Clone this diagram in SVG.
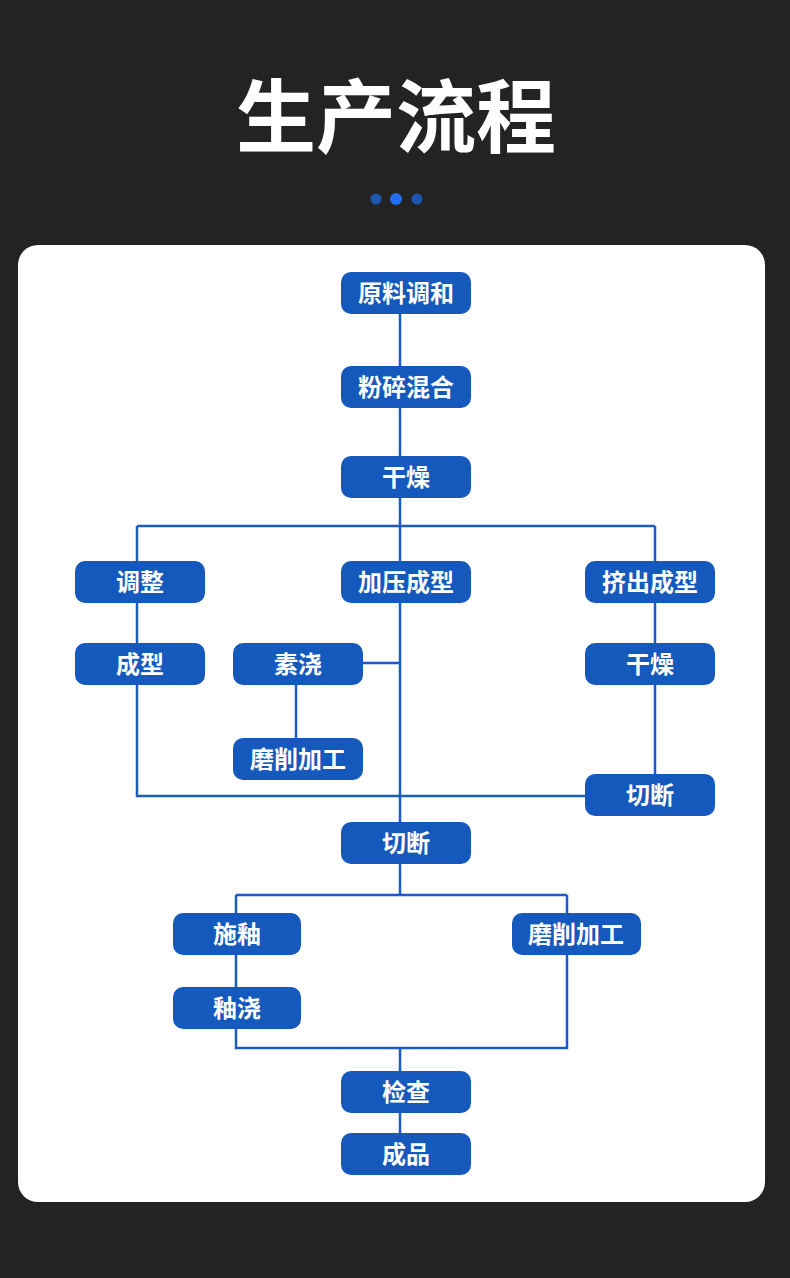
<svg xmlns="http://www.w3.org/2000/svg" width="790" height="1278" viewBox="0 0 790 1278">
<style>
.n rect{fill:#1559bd}
.n text{fill:#fff;font-family:"Noto Sans CJK SC",sans-serif;font-weight:bold;font-size:24px;text-anchor:middle;dominant-baseline:central}
#conn path{fill:none;stroke:#1a5cc0;stroke-width:2.5}
</style>
<rect width="790" height="1278" fill="#232323"/>
<text x="396" y="146" fill="#fff" font-family="Noto Sans CJK SC,sans-serif" font-weight="bold" font-size="80" text-anchor="middle">生产流程</text>
<circle cx="376" cy="199" r="5.5" fill="#1d56b0"/><circle cx="396" cy="199" r="6" fill="#1f6ff0"/><circle cx="417" cy="199" r="5.5" fill="#1d56b0"/>
<rect x="18" y="245" width="747" height="957" rx="20" fill="#fff"/>
<g id="conn">
<path d="M400 314V895M400 1048V1133M137 526H655M137 526V796H585M655 526V774M363 663H400M296 685V738M236 895H567M236 895V1048H567V895"/>
</g>
<g class="n" id="n1"><rect x="341" y="272" width="130" height="42" rx="10"/><text x="406" y="291">原料调和</text></g>
<g class="n" id="n2"><rect x="341" y="366" width="130" height="42" rx="10"/><text x="406" y="385">粉碎混合</text></g>
<g class="n" id="n3"><rect x="341" y="456" width="130" height="42" rx="10"/><text x="406" y="475">干燥</text></g>
<g class="n" id="n4"><rect x="75" y="561" width="130" height="42" rx="10"/><text x="140" y="580">调整</text></g>
<g class="n" id="n5"><rect x="341" y="561" width="130" height="42" rx="10"/><text x="406" y="580">加压成型</text></g>
<g class="n" id="n6"><rect x="585" y="561" width="130" height="42" rx="10"/><text x="650" y="580">挤出成型</text></g>
<g class="n" id="n7"><rect x="75" y="643" width="130" height="42" rx="10"/><text x="140" y="662">成型</text></g>
<g class="n" id="n8"><rect x="233" y="643" width="130" height="42" rx="10"/><text x="298" y="662">素浇</text></g>
<g class="n" id="n9"><rect x="585" y="643" width="130" height="42" rx="10"/><text x="650" y="662">干燥</text></g>
<g class="n" id="n10"><rect x="233" y="738" width="130" height="42" rx="10"/><text x="298" y="757">磨削加工</text></g>
<g class="n" id="n11"><rect x="585" y="774" width="130" height="42" rx="10"/><text x="650" y="793">切断</text></g>
<g class="n" id="n12"><rect x="341" y="822" width="130" height="42" rx="10"/><text x="406" y="841">切断</text></g>
<g class="n" id="n13"><rect x="173" y="913" width="128" height="42" rx="10"/><text x="237" y="932">施釉</text></g>
<g class="n" id="n14"><rect x="512" y="913" width="129" height="42" rx="10"/><text x="576" y="932">磨削加工</text></g>
<g class="n" id="n15"><rect x="173" y="987" width="128" height="42" rx="10"/><text x="237" y="1006">釉浇</text></g>
<g class="n" id="n16"><rect x="341" y="1071" width="130" height="42" rx="10"/><text x="406" y="1090">检查</text></g>
<g class="n" id="n17"><rect x="341" y="1133" width="130" height="42" rx="10"/><text x="406" y="1152">成品</text></g>
</svg>
